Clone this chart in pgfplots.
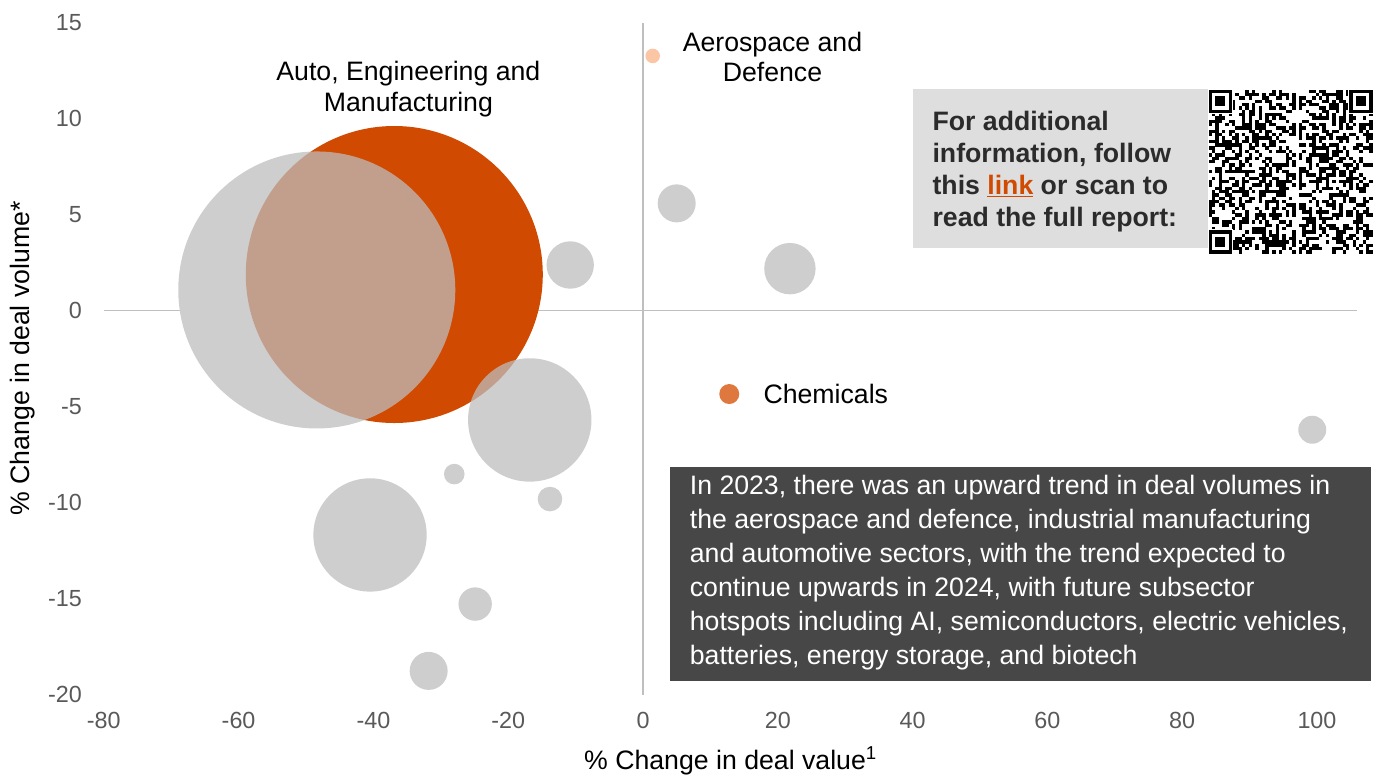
\documentclass[border=0pt]{standalone}
\usepackage{fontspec}
\setmainfont{Liberation Sans}
\usepackage{pgfplots}
\pgfplotsset{compat=1.18}
\usepackage{pgfplotstable}

\definecolor{pwcorange}{HTML}{D04A02}
\definecolor{bubblegray}{RGB}{190,190,190}
\definecolor{peach}{HTML}{FBC6A6}
\definecolor{chem}{HTML}{DF783F}
\definecolor{linegray}{HTML}{BFBFBF}
\definecolor{ticktext}{HTML}{595959}
\definecolor{infobg}{HTML}{DEDEDE}
\definecolor{infotext}{HTML}{2B2B2B}
\definecolor{darkbox}{HTML}{474747}

% x = % change in deal value, y = % change in deal volume, r = bubble radius (px)
\pgfplotstableread{
x y r
-48.4 1.07 138.5
-10.8 2.37 23.7
5.0 5.58 19
21.8 2.18 25.7
-16.8 -5.70 61.7
-28.0 -8.52 10.3
-13.8 -9.82 12.3
-40.5 -11.69 56.7
-24.9 -15.29 16.7
-31.8 -18.77 19
99.3 -6.21 14
}\graydata

\pgfplotstableread{
x y r
-36.9 1.875 148.5
}\autodata

\pgfplotstableread{
x y r
1.44 13.26 7.3
}\aerodata

\pgfplotstableread{
x y r
12.8 -4.35 10
}\chemdata

\pgfplotsset{
  bubble/.style 2 args={scatter, only marks, mark=*,
    scatter/use mapped color={draw=#1, fill=#1, draw opacity=0, fill opacity=#2},
    visualization depends on={0.75*\thisrow{r} \as \rad},
    scatter/@pre marker code/.append style={/tikz/mark size=\rad}},
}

\begin{document}
\begin{tikzpicture}
\begin{axis}[
  at={(77.85pt,-520.875pt)}, anchor=south west,
  scale only axis, width=940.2pt, height=504pt,
  xmin=-80, xmax=106, ymin=-20, ymax=15,
  xtick={-80,-60,...,100}, ytick={-20,-15,...,15},
  axis line style={draw=none}, major tick length=0pt,
  tick label style={font=\fontsize{17.5}{21}\selectfont, text=ticktext},
  /pgf/number format/assume math mode=true,
  xticklabel style={yshift=-10pt},
  yticklabel style={xshift=-13pt},
  extra x ticks={0}, extra x tick labels={},
  extra y ticks={0}, extra y tick labels={},
  extra tick style={grid=major, major grid style={draw=linegray, line width=1.4pt}},
  xlabel={\% Change in deal value\textsuperscript{1}},
  ylabel={\% Change in deal volume*},
  label style={font=\fontsize{20}{24}\selectfont, text=black},
  xlabel style={at={(axis description cs:0.5,-0.1109)}, anchor=base},
  ylabel style={at={(axis description cs:-0.065,0.5)}, anchor=center},
  clip=false,
]
% white base hides the axis lines under the grey bubbles
\addplot[bubble={white}{1}] table {\graydata};
\addplot[bubble={pwcorange}{1}] table {\autodata};
\addplot[bubble={bubblegray}{0.74}] table {\graydata};
\addplot[bubble={peach}{1}] table {\aerodata};
\addplot[bubble={chem}{1}] table {\chemdata};
\end{axis}

\begin{scope}[x=0.75pt, y=-0.75pt]
\useasboundingbox (0,0) rectangle (1373,771);

% annotations
\begin{scope}[every node/.style={inner sep=0pt, font=\fontsize{20}{24}\selectfont, text=black}]
\node[anchor=base] at (408.4,80) {Auto, Engineering and};
\node[anchor=base] at (408.4,111.7) {Manufacturing};
\node[anchor=base] at (772.5,51.7) {Aerospace and};
\node[anchor=base] at (772.5,81.7) {Defence};
\node[anchor=base west] at (763.3,403.3) {Chemicals};
\end{scope}

% info box
\fill[infobg] (913,89) rectangle (1210,248);
\begin{scope}[every node/.style={inner sep=0pt, anchor=base west, font=\bfseries\fontsize{20}{24}\selectfont, text=infotext}]
\node at (932.3,130) {For additional};
\node at (932.3,162.3) {information, follow};
\node at (932.3,194.6) {this \textcolor{pwcorange}{\underline{link}} or scan to};
\node at (932.3,226.9) {read the full report:};
\end{scope}

% QR-like pattern (decoration)
\fill[white] (1208,89) rectangle (1373,254);
\foreach \i in {0,...,48}{\foreach \j in {0,...,48}{%
  \edef\qrt{\the\numexpr \i*53+\j*29+\i*\j*7\relax}%
  \edef\qrh{\the\numexpr \qrt*\qrt-211*((\qrt*\qrt)/211)\relax}%
  \ifnum\qrh<0 \fill[black] (1208.5+3.35*\i,89.5+3.35*\j) rectangle ++(3.4,3.4);\fi
}}
\foreach \fx/\fy in {1208.5/89.5, 1349.2/89.5, 1208.5/230.2}{%
  \fill[white] (\fx-1,\fy-1) rectangle ++(25.5,25.5);
  \fill[black] (\fx,\fy) rectangle ++(23.45,23.45);
  \fill[white] (\fx+3.35,\fy+3.35) rectangle ++(16.75,16.75);
  \fill[black] (\fx+6.7,\fy+6.7) rectangle ++(10.05,10.05);
}

% dark commentary box
\fill[darkbox] (670,467) rectangle (1371,681);
\begin{scope}[every node/.style={inner sep=0pt, anchor=base west, font=\fontsize{20}{24}\selectfont, text=white}]
\node at (689.6,494) {In 2023, there was an upward trend in deal volumes in};
\node at (689.6,528) {the aerospace and defence, industrial manufacturing};
\node at (689.6,562) {and automotive sectors, with the trend expected to};
\node at (689.6,596) {continue upwards in 2024, with future subsector};
\node at (689.6,630) {hotspots including AI, semiconductors, electric vehicles,};
\node at (689.6,664) {batteries, energy storage, and biotech};
\end{scope}
\end{scope}
\end{tikzpicture}
\end{document}
